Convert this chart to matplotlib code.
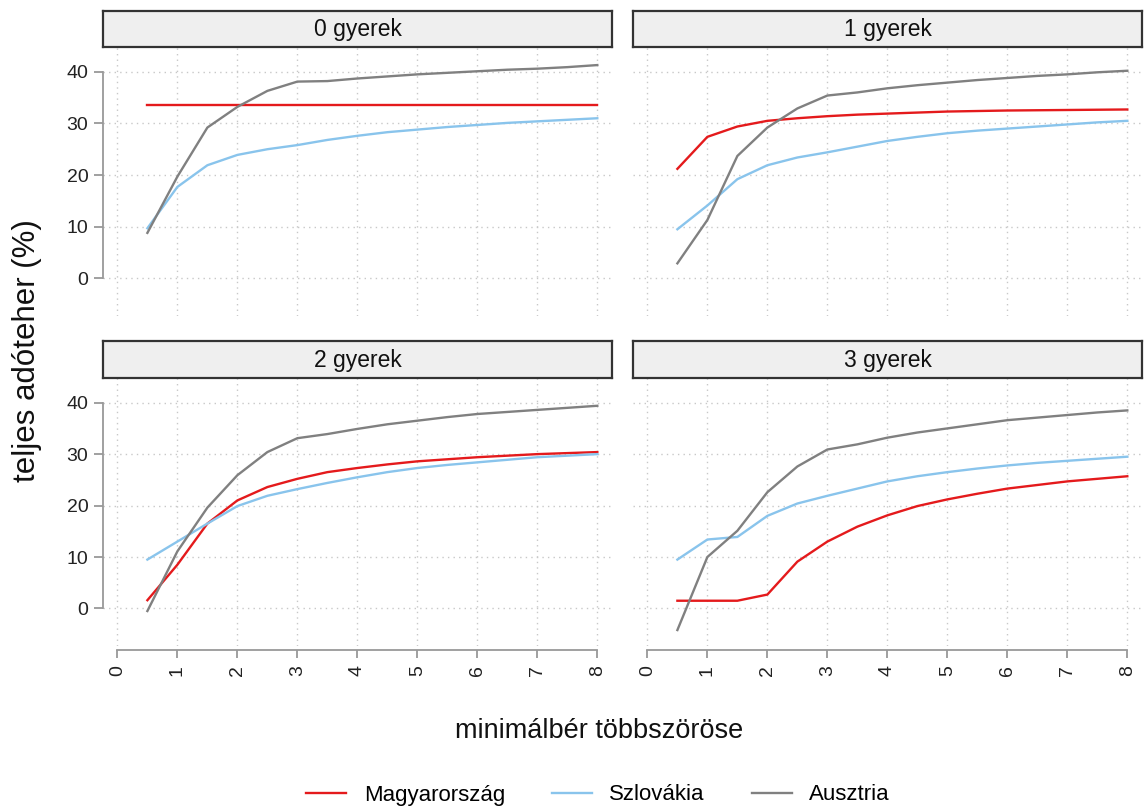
import matplotlib
matplotlib.use("Agg")
import matplotlib.pyplot as plt

plt.rcParams['font.family'] = ['Liberation Sans', 'DejaVu Sans']

# adatok: x = minimalber tobbszorose
x = [0.5, 1, 1.5, 2, 2.5, 3, 3.5, 4, 4.5, 5, 5.5, 6, 6.5, 7, 7.5, 8]

panelek = ['0 gyerek', '1 gyerek', '2 gyerek', '3 gyerek']
orszagok = ['Magyarország', 'Szlovákia', 'Ausztria']
szinek = ['#e41a1c', '#89c4ec', '#808080']

# 0 gyerek
hu_0 = [33.5] * 16
sk_0 = [9.7, 17.7, 21.9, 23.9, 25.0, 25.8, 26.8, 27.6, 28.3, 28.8, 29.3, 29.7, 30.1, 30.4, 30.7, 31.0]
at_0 = [8.8, 19.7, 29.2, 33.2, 36.3, 38.1, 38.2, 38.7, 39.1, 39.5, 39.8, 40.1, 40.4, 40.6, 40.9, 41.3]

# 1 gyerek
hu_1 = [21.2, 27.4, 29.4, 30.5, 31.0, 31.4, 31.7, 31.9, 32.1, 32.3, 32.4, 32.5, 32.55, 32.6, 32.65, 32.7]
sk_1 = [9.5, 14.1, 19.2, 21.9, 23.4, 24.4, 25.5, 26.6, 27.4, 28.1, 28.6, 29.0, 29.4, 29.8, 30.2, 30.5]
at_1 = [2.9, 11.3, 23.7, 29.2, 32.9, 35.4, 36.0, 36.8, 37.4, 37.9, 38.4, 38.8, 39.2, 39.5, 39.9, 40.2]

# 2 gyerek
hu_2 = [1.6, 8.5, 16.5, 21.0, 23.6, 25.2, 26.5, 27.3, 28.0, 28.6, 29.0, 29.4, 29.7, 30.0, 30.2, 30.4]
sk_2 = [9.5, 13.0, 16.5, 19.9, 21.9, 23.2, 24.4, 25.5, 26.5, 27.3, 27.9, 28.4, 28.9, 29.4, 29.7, 30.0]
at_2 = [-0.5, 11.1, 19.6, 25.9, 30.4, 33.1, 33.9, 34.9, 35.8, 36.5, 37.2, 37.8, 38.2, 38.6, 39.0, 39.4]

# 3 gyerek
hu_3 = [1.5, 1.5, 1.5, 2.7, 9.1, 13.0, 15.9, 18.1, 19.9, 21.2, 22.3, 23.3, 24.0, 24.7, 25.2, 25.7]
sk_3 = [9.5, 13.4, 13.9, 18.0, 20.4, 21.9, 23.3, 24.7, 25.7, 26.5, 27.2, 27.8, 28.3, 28.7, 29.1, 29.5]
at_3 = [-4.2, 10.0, 15.1, 22.6, 27.6, 30.9, 31.9, 33.2, 34.2, 35.0, 35.8, 36.6, 37.1, 37.6, 38.1, 38.5]

adatok = [[hu_0, sk_0, at_0], [hu_1, sk_1, at_1], [hu_2, sk_2, at_2], [hu_3, sk_3, at_3]]

W, H = 1145, 809
fig = plt.figure(figsize=(W / 100, H / 100), dpi=100)

# panel pozicio pixelben: (bal, jobb), (strip teteje, plot teteje, plot alja)
bal_x = [(103, 612), (633, 1142)]
sor_y = [(11, 47, 316), (341, 378, 646)]

vonalak = []
for i in range(4):
    sor = i // 2
    osz = i % 2
    x0, x1 = bal_x[osz]
    s0, p0, p1 = sor_y[sor]

    ax = fig.add_axes([x0 / W, 1 - p1 / H, (x1 - x0) / W, (p1 - p0) / H])
    for j in range(3):
        l, = ax.plot(x, adatok[i][j], color=szinek[j], lw=1.7, label=orszagok[j], zorder=3)
        if i == 0:
            vonalak.append(l)
    ax.set_xlim(-0.24, 8.245)
    ax.set_ylim(-7.3, 44.8)
    ax.set_xticks(range(0, 9))
    ax.set_yticks([0, 10, 20, 30, 40])
    ax.grid(True, color='#c8c8c8', linestyle=(0, (1, 3)), lw=1.0)
    for sp in ['top', 'right', 'left', 'bottom']:
        ax.spines[sp].set_visible(False)

    if osz == 0:
        ax.spines['left'].set_visible(True)
        ax.spines['left'].set_bounds(0, 40)
        ax.spines['left'].set_color('#999999')
        ax.spines['left'].set_linewidth(1.3)
        ax.tick_params(axis='y', length=6.5, width=1.3, color='#999999', pad=4,
                       labelsize=14, labelcolor='#222222')
    else:
        ax.tick_params(axis='y', length=0, labelleft=False)

    if sor == 1:
        ax.spines['bottom'].set_visible(True)
        ax.spines['bottom'].set_bounds(0, 8)
        ax.spines['bottom'].set_position(('outward', 3))
        ax.spines['bottom'].set_color('#999999')
        ax.spines['bottom'].set_linewidth(1.3)
        ax.tick_params(axis='x', length=6, width=1.3, color='#999999', pad=5,
                       labelsize=14, labelcolor='#222222', labelrotation=90)
    else:
        ax.tick_params(axis='x', length=0, labelbottom=False)

    # strip
    sax = fig.add_axes([x0 / W, 1 - p0 / H, (x1 - x0) / W, (p0 - s0) / H])
    sax.set_facecolor('#efefef')
    sax.set_xticks([])
    sax.set_yticks([])
    for sp in sax.spines.values():
        sp.set_color('#333333')
        sp.set_linewidth(1.6)
    sax.text(0.5, 0.48, panelek[i], ha='center', va='center', fontsize=16.5,
             color='#111111', transform=sax.transAxes)

fig.text(599 / W, 1 - 731 / H, 'minimálbér többszöröse', ha='center', va='center',
         fontsize=19.5, color='#111111')
fig.text(27 / W, 1 - 351 / H, 'teljes adóteher (%)', ha='center', va='center',
         rotation=90, fontsize=22.5, color='#111111')

fig.legend(handles=vonalak, loc='center', bbox_to_anchor=(598 / W, 1 - 795 / H),
           ncol=3, frameon=False, fontsize=16, handlelength=1.8,
           handletextpad=0.8, columnspacing=2.1)

fig.savefig('out.png', dpi=100)
